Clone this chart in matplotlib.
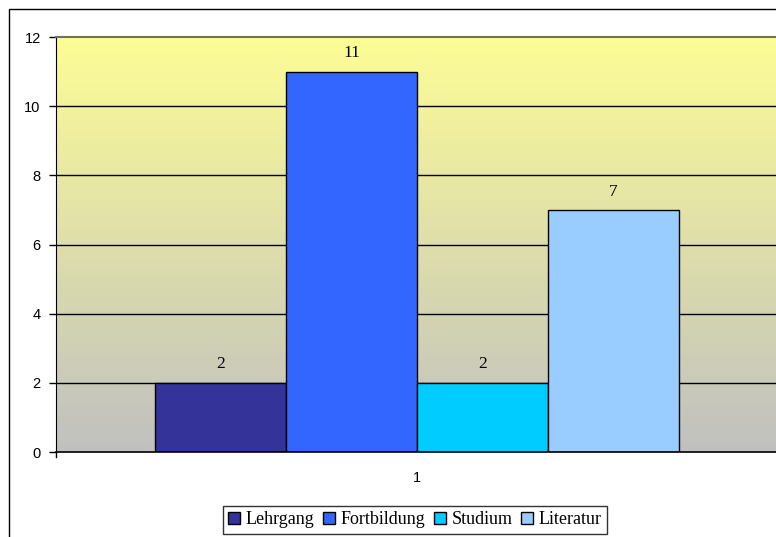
import numpy as np
import matplotlib
matplotlib.use("Agg")
import matplotlib.pyplot as plt
from matplotlib.patches import Rectangle
from matplotlib.colors import LinearSegmentedColormap

categories = ["1"]
series = ["Lehrgang", "Fortbildung", "Studium", "Literatur"]
values = [2, 11, 2, 7]
colors = ["#333399", "#3366FF", "#00CCFF", "#99CCFF"]
yticks = [0, 2, 4, 6, 8, 10, 12]

fig = plt.figure(figsize=(7.76, 5.37), dpi=100)
fig.patch.set_facecolor("white")

# chart frame
fig.patches.append(Rectangle((9 / 776, -0.05), 1.2, 1 - 9 / 537 + 0.05,
                             transform=fig.transFigure, fill=False,
                             edgecolor="black", linewidth=1.0))

ax = fig.add_axes([56 / 776, 1 - 452 / 537, 722 / 776, (452 - 37) / 537])
ax.set_xlim(0.5, 1.5)
ax.set_ylim(0, 12)

# plot-area gradient: yellow at the top fading to grey at the bottom
cmap = LinearSegmentedColormap.from_list("bg", ["#C0C0C0", "#FDFD96"])
grad = np.linspace(0, 1, 256).reshape(-1, 1)
ax.imshow(grad, cmap=cmap, aspect="auto", extent=[0.5, 1.5, 0, 12],
          origin="lower", zorder=0)

for y in yticks[1:-1]:
    ax.axhline(y, color="black", linewidth=1.0, zorder=1)

width = 0.1814
for i, (name, v, c) in enumerate(zip(series, values, colors)):
    x = 1 + (i - 1.5) * width
    ax.bar(x, v, width=width, color=c, edgecolor="black", linewidth=1.0,
           label=name, zorder=2)
    ax.text(x, v + 0.3, str(v), ha="center", va="bottom",
            fontfamily="Liberation Serif", fontsize=12.5, zorder=3)

ax.set_yticks(yticks)
ax.set_yticklabels([str(t) for t in yticks], fontfamily="Liberation Sans",
                   fontsize=10.5)
ax.set_xticks([1])
ax.set_xticklabels(categories, fontfamily="Liberation Sans", fontsize=10.5)
ax.tick_params(axis="x", length=0, pad=14)
ax.tick_params(axis="y", direction="out", length=5, width=1, pad=6)
# category boundary ticks
for xb in (0.5, 1.5):
    ax.plot([xb, xb], [0, -0.15], color="black", linewidth=1.0,
            clip_on=False, zorder=4)

ax.spines["right"].set_visible(False)
ax.spines["top"].set_color("#707060")
ax.spines["top"].set_linewidth(1.5)
ax.spines["left"].set_color("black")
ax.spines["bottom"].set_color("black")
ax.spines["bottom"].set_linewidth(1.2)

leg = fig.legend(loc="center", bbox_to_anchor=(415 / 776, 1 - 520 / 537),
                 ncol=4, frameon=True, fancybox=False, edgecolor="black",
                 prop={"family": "Liberation Serif", "size": 13},
                 handlelength=0.65, handleheight=0.65, handletextpad=0.3,
                 columnspacing=0.5, borderpad=0.3, borderaxespad=0)
leg.get_frame().set_linewidth(1.0)

fig.savefig("out.png", dpi=100)
